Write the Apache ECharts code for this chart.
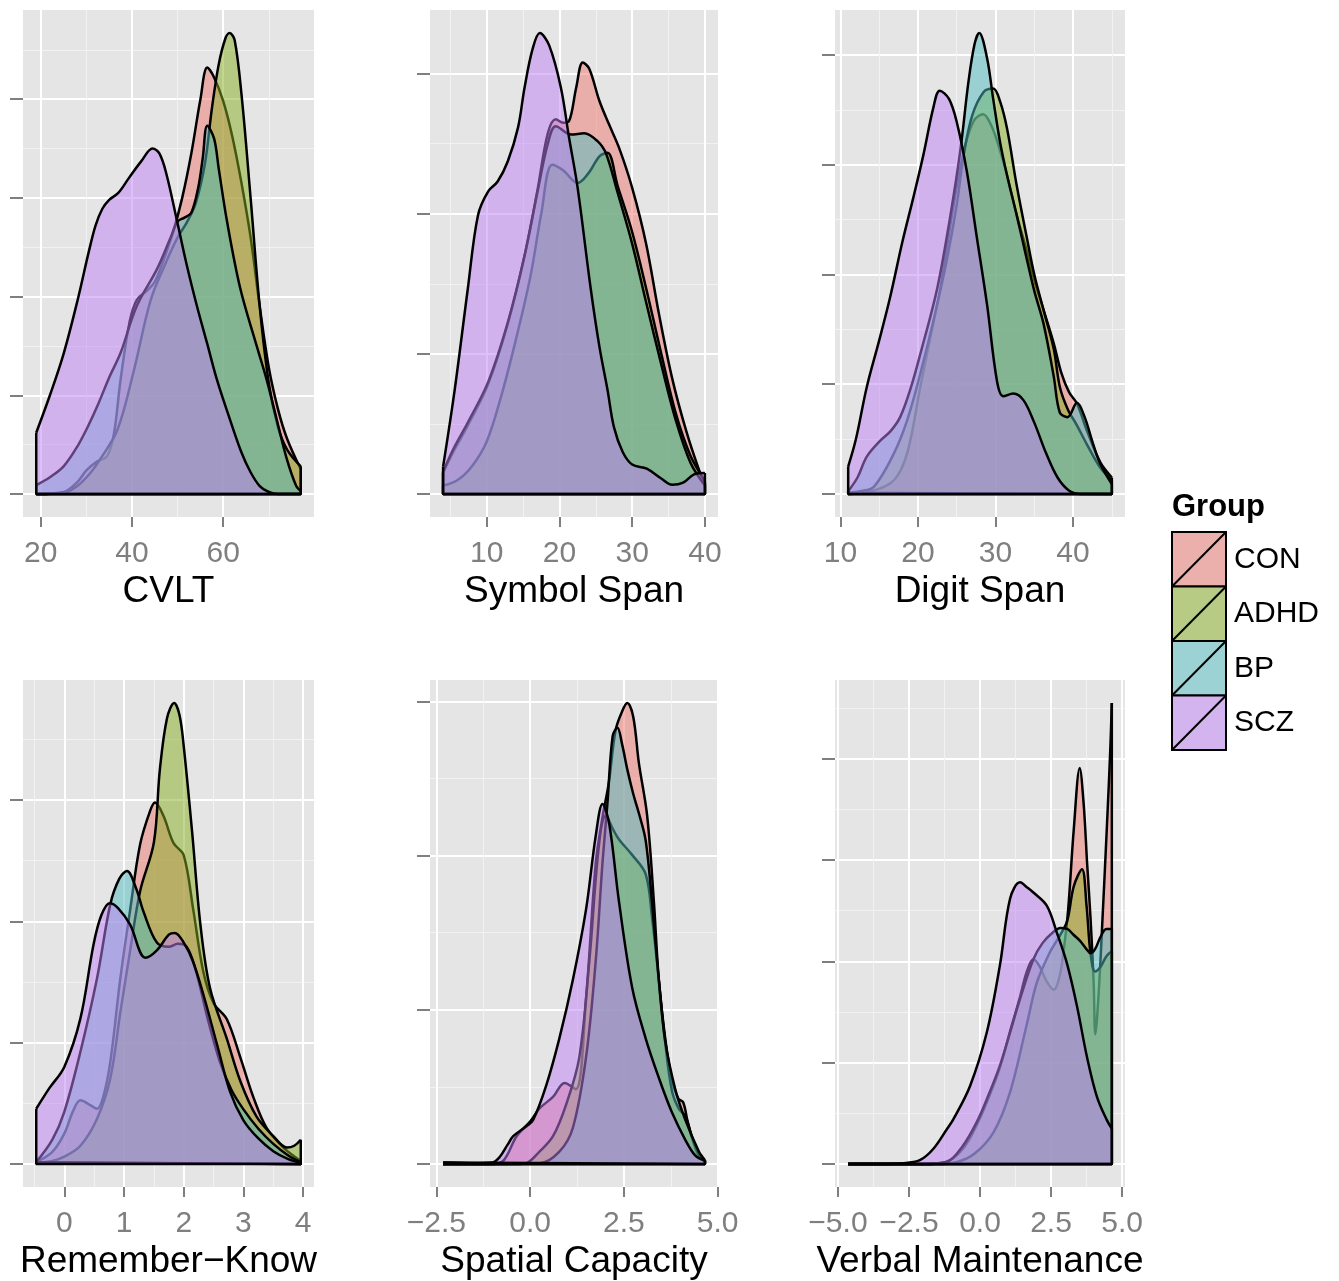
<!DOCTYPE html>
<html>
<head>
<meta charset="utf-8">
<script src="https://cdn.jsdelivr.net/npm/echarts@6/dist/echarts.min.js"></script>
<style>
html,body{margin:0;padding:0;background:#ffffff;}
#chart{width:1339px;height:1281px;}
</style>
</head>
<body>
<div id="chart"></div>
<script>
// ---------------- DATA ----------------
const groups = ['CON', 'ADHD', 'BP', 'SCZ'];
const groupColors = ['#EE7870', '#88AD20', '#50BCC0', '#C080F5'];
const panelTitles = ['CVLT', 'Symbol Span', 'Digit Span', 'Remember\u2212Know', 'Spatial Capacity', 'Verbal Maintenance'];

const xMajorTicks = [[20, 40, 60], [10, 20, 30, 40], [10, 20, 30, 40], [0, 1, 2, 3, 4], [-2.5, 0, 2.5, 5], [-5, -2.5, 0, 2.5, 5]];
const xMinorTicks = [[30, 50, 70], [5, 15, 25, 35], [15, 25, 35, 45], [-0.5, 0.5, 1.5, 2.5, 3.5], [-1.25, 1.25, 3.75], [-3.75, -1.25, 1.25, 3.75]];
const xTickDecimals = [0, 0, 0, 0, 1, 1];
const yMajorTicks = [[0, 0.01, 0.02, 0.03, 0.04], [0, 0.02, 0.04, 0.06], [0, 0.02, 0.04, 0.06, 0.08], [0, 0.2, 0.4, 0.6], [0, 0.2, 0.4, 0.6], [0, 0.1, 0.2, 0.3, 0.4]];
const yMinorTicks = [[0.005, 0.015, 0.025, 0.035, 0.045], [0.01, 0.03, 0.05], [0.01, 0.03, 0.05, 0.07], [0.1, 0.3, 0.5, 0.7], [0.1, 0.3, 0.5], [0.05, 0.15, 0.25, 0.35, 0.45]];

// CVLT densities
const cvltCON = [[19,0],[25,0.0002],[28,0.0012],[30,0.0024],[32.4,0.0033],[34.5,0.0038],[36,0.006],[37.5,0.0116],[39.5,0.0175],[41.1,0.0197],[43.3,0.0206],[45,0.0215],[47,0.0238],[49,0.0265],[51,0.030],[53,0.0345],[55,0.040],[56.5,0.0432],[58,0.0422],[60,0.0398],[62,0.0362],[64,0.0315],[66,0.026],[68,0.019],[70,0.0128],[72,0.0086],[74,0.0056],[77,0.0025]];
const cvltADHD = [[19,0],[25,0.0001],[28,0.0008],[31,0.0022],[33,0.0035],[36.8,0.0065],[40.4,0.0125],[44,0.0195],[47,0.023],[50,0.026],[52,0.0275],[54,0.0295],[56,0.0335],[57.5,0.039],[59,0.0435],[60.5,0.0462],[61.4,0.0467],[62.5,0.046],[64,0.0405],[66,0.030],[68,0.019],[70,0.0112],[72,0.0068],[74,0.0045],[77,0.0028]];
const cvltBP = [[19,0.0009],[22,0.0017],[25,0.0028],[28,0.0048],[30.5,0.007],[32.4,0.0089],[35,0.0118],[37.5,0.0143],[41,0.019],[45.5,0.0228],[48.4,0.0259],[50,0.0276],[51.5,0.028],[53,0.0285],[54.5,0.031],[55.5,0.034],[56.5,0.0373],[58,0.036],[59,0.033],[60.8,0.0277],[63.7,0.0209],[67.4,0.0149],[69.5,0.0116],[71.7,0.0076],[73.9,0.0036],[76,0.0008],[77,0.0003]];
const cvltSCZ = [[19,0.0062],[22,0.0100],[25,0.0142],[28,0.0195],[30.5,0.0245],[32,0.0272],[33.5,0.0289],[35,0.0298],[37,0.0305],[39.3,0.032],[42,0.0337],[44.5,0.035],[46,0.0345],[47.5,0.0325],[49.9,0.0276],[52,0.0232],[54.2,0.0191],[56.5,0.0152],[58.6,0.0116],[61.5,0.0075],[64,0.0042],[66,0.0022],[68,0.0008],[70,0.0002],[72,0],[77,0]];

// Symbol Span densities
const symCON = [[4,0.003],[5.5,0.0062],[7.4,0.0098],[10.2,0.0157],[12.9,0.0243],[15.2,0.034],[17,0.0435],[18.4,0.0515],[19.5,0.0535],[20.5,0.053],[21.3,0.0532],[22.3,0.058],[23.2,0.0616],[24.1,0.0607],[25.5,0.0561],[26.8,0.0528],[28.2,0.0494],[30,0.0437],[31.9,0.0358],[33.7,0.0256],[35.5,0.0165],[37.4,0.0091],[39.2,0.0034],[40,0.0015]];
const symADHD = [[4,0.0012],[6,0.002],[8,0.004],[10,0.0075],[12,0.014],[14,0.022],[16,0.031],[17.5,0.040],[19,0.047],[20.5,0.0462],[22.5,0.0444],[24,0.0458],[25.5,0.0482],[26.6,0.0487],[28,0.044],[30,0.0374],[32,0.029],[34,0.020],[36,0.0115],[38,0.0055],[40,0.0018]];
const symBP = [[4,0.0032],[5.5,0.0066],[7.4,0.0102],[10.2,0.016],[12.9,0.0245],[15.2,0.034],[17,0.0432],[18.4,0.050],[19.5,0.0525],[21.6,0.0513],[23.4,0.0515],[25.2,0.0504],[26.4,0.0486],[28,0.043],[30,0.0357],[32,0.027],[34,0.0185],[36,0.0105],[38,0.0045],[40,0.0012]];
const symSCZ = [[4,0.0039],[5.6,0.0149],[7.4,0.0293],[8.8,0.0398],[10.2,0.0432],[11.5,0.0446],[12.9,0.0475],[14.3,0.0523],[15.2,0.058],[16.3,0.0635],[17.3,0.0658],[18.6,0.064],[20.2,0.058],[21.3,0.051],[22.5,0.0437],[24.3,0.0293],[25.5,0.021],[26.6,0.0149],[27.5,0.0095],[28.7,0.006],[30,0.0042],[32,0.0036],[34,0.0022],[35.5,0.0013],[37,0.0016],[38.5,0.0028],[40,0.003]];

// Digit Span densities
const digCON = [[11,0],[14,0.0005],[16.9,0.0025],[18.6,0.0074],[20.3,0.0195],[21.6,0.0285],[22.9,0.0376],[24.6,0.0527],[26,0.063],[27.2,0.068],[28.4,0.0692],[29.5,0.067],[30.6,0.0625],[31.5,0.058],[32.7,0.051],[34,0.0445],[35,0.039],[36.2,0.0335],[37.5,0.0275],[38.5,0.022],[39.5,0.0185],[40.5,0.0165],[41.8,0.0115],[43.5,0.0058],[45,0.003]];
const digADHD = [[11,0.0002],[12.5,0.0005],[14.3,0.0013],[16.9,0.0074],[18.6,0.0134],[20.3,0.0219],[22,0.0316],[23.7,0.0425],[25,0.0527],[25.9,0.0618],[27,0.069],[28.5,0.0733],[29.7,0.0739],[30.6,0.0715],[31.5,0.0665],[32.7,0.0565],[34,0.047],[35,0.040],[36.2,0.0335],[37.5,0.0265],[38.3,0.0195],[39.3,0.0155],[40.5,0.0125],[41.8,0.009],[43.5,0.0048],[45,0.0025]];
const digBP = [[11,0.0005],[12.2,0.003],[13.4,0.0068],[15.2,0.0098],[16.5,0.0115],[17.7,0.014],[19,0.019],[20.3,0.0255],[22.5,0.0376],[24.2,0.0509],[25.5,0.063],[26.5,0.075],[27.3,0.082],[27.9,0.084],[28.9,0.0795],[29.7,0.072],[30.6,0.064],[31.5,0.058],[32.7,0.051],[34,0.043],[35,0.037],[36.2,0.031],[37.5,0.0215],[38.3,0.0148],[39.3,0.014],[40.5,0.0166],[41.5,0.014],[42.5,0.0095],[43.5,0.0055],[45,0.0018]];
const digSCZ = [[11,0.005],[12,0.010],[13.4,0.0195],[15,0.028],[16.4,0.0358],[18,0.046],[19.4,0.054],[20.7,0.0618],[22,0.0705],[22.8,0.0735],[24,0.072],[25,0.0678],[26.3,0.0588],[27.6,0.0467],[28.9,0.0346],[30.2,0.0205],[31,0.0178],[32.3,0.0183],[33.6,0.0171],[35,0.013],[36.5,0.0075],[38,0.003],[39.5,0.0006],[41,0],[45,0]];

// Remember-Know densities
const rkCON = [[-0.47,0.003],[-0.2,0.02],[0,0.05],[0.15,0.088],[0.27,0.105],[0.42,0.098],[0.55,0.091],[0.65,0.11],[0.77,0.168],[0.94,0.307],[1.1,0.417],[1.27,0.527],[1.44,0.583],[1.52,0.596],[1.66,0.574],[1.83,0.529],[2.0,0.509],[2.16,0.419],[2.33,0.316],[2.5,0.265],[2.72,0.239],[2.95,0.175],[3.17,0.109],[3.39,0.059],[3.67,0.027],[3.96,0.005]];
const rkADHD = [[-0.47,0.002],[-0.2,0.005],[0,0.012],[0.27,0.03],[0.55,0.075],[0.77,0.141],[0.94,0.251],[1.1,0.35],[1.27,0.45],[1.5,0.53],[1.6,0.65],[1.72,0.735],[1.84,0.760],[1.93,0.74],[2.0,0.689],[2.14,0.548],[2.28,0.394],[2.44,0.29],[2.72,0.207],[2.95,0.136],[3.22,0.078],[3.5,0.046],[3.73,0.027],[3.85,0.03],[3.96,0.04]];
const rkBP = [[-0.47,0.003],[-0.2,0.04],[0,0.086],[0.27,0.185],[0.55,0.307],[0.77,0.428],[0.92,0.47],[1.05,0.483],[1.2,0.455],[1.33,0.415],[1.55,0.365],[1.75,0.358],[1.9,0.363],[2.05,0.358],[2.2,0.32],[2.4,0.24],[2.6,0.17],[2.8,0.122],[3.0,0.09],[3.25,0.058],[3.5,0.033],[3.75,0.014],[3.96,0.003]];
const rkSCZ = [[-0.47,0.091],[-0.25,0.125],[0,0.160],[0.27,0.240],[0.49,0.362],[0.62,0.41],[0.76,0.43],[0.9,0.422],[1.1,0.395],[1.36,0.34],[1.55,0.352],[1.75,0.378],[1.85,0.381],[2.0,0.365],[2.15,0.335],[2.33,0.279],[2.56,0.196],[2.78,0.118],[3.0,0.072],[3.25,0.042],[3.5,0.021],[3.75,0.008],[3.96,0.002]];

// Spatial Capacity densities
const spCON = [[-2.32,0],[-1.0,0],[-0.7,0.005],[-0.36,0.036],[0,0.055],[0.25,0.072],[0.61,0.087],[0.92,0.105],[1.22,0.097],[1.49,0.214],[1.75,0.39],[1.93,0.45],[2.1,0.495],[2.28,0.563],[2.46,0.588],[2.59,0.598],[2.75,0.58],[2.9,0.52],[3.12,0.452],[3.3,0.34],[3.43,0.24],[3.61,0.16],[3.78,0.11],[3.95,0.085],[4.08,0.08],[4.2,0.055],[4.35,0.028],[4.5,0.01],[4.66,0.004]];
const spADHD = [[-2.32,0],[-0.3,0],[-0.1,0.001],[0.25,0.016],[0.61,0.036],[0.96,0.077],[1.31,0.138],[1.58,0.264],[1.84,0.416],[2.02,0.452],[2.2,0.435],[2.37,0.421],[2.72,0.401],[3.08,0.376],[3.25,0.32],[3.43,0.239],[3.6,0.158],[3.78,0.095],[3.96,0.072],[4.14,0.062],[4.31,0.036],[4.5,0.012],[4.66,0.004]];
const spBP = [[-2.32,0],[0.25,0.001],[0.78,0.016],[1.14,0.047],[1.49,0.138],[1.75,0.264],[1.93,0.391],[2.06,0.467],[2.2,0.555],[2.33,0.566],[2.45,0.545],[2.6,0.51],[2.75,0.48],[2.9,0.455],[3.08,0.42],[3.25,0.34],[3.43,0.239],[3.6,0.16],[3.87,0.097],[4.14,0.057],[4.5,0.016],[4.66,0.005]];
const spSCZ = [[-2.32,0.002],[-1.5,0.001],[-1.0,0.002],[-0.81,0.009],[-0.6,0.025],[-0.45,0.036],[-0.1,0.049],[0.08,0.057],[0.43,0.102],[0.78,0.163],[1.14,0.239],[1.49,0.33],[1.75,0.426],[1.93,0.467],[2.11,0.441],[2.37,0.34],[2.72,0.229],[3.08,0.163],[3.43,0.112],[3.78,0.067],[4.14,0.031],[4.4,0.011],[4.66,0.004]];

// Verbal Maintenance densities
const vmCON = [[-4.64,0],[-2,0],[-1.2,0.002],[-0.6,0.015],[-0.12,0.038],[0.3,0.065],[0.7,0.095],[1.1,0.135],[1.41,0.165],[1.65,0.19],[1.88,0.202],[2.1,0.195],[2.35,0.18],[2.6,0.172],[2.8,0.185],[2.95,0.212],[3.1,0.25],[3.3,0.33],[3.51,0.391],[3.65,0.355],[3.77,0.297],[3.89,0.243],[4.0,0.18],[4.06,0.128],[4.18,0.17],[4.3,0.235],[4.47,0.335],[4.59,0.412],[4.64,0.455]];
const vmADHD = [[-4.64,0],[-1.5,0],[-0.8,0.002],[-0.2,0.01],[0.47,0.031],[1.06,0.071],[1.64,0.137],[2.0,0.179],[2.46,0.209],[2.8,0.225],[3.07,0.24],[3.3,0.274],[3.59,0.291],[3.75,0.255],[3.89,0.208],[4.05,0.19],[4.25,0.195],[4.45,0.205],[4.64,0.21]];
const vmBP = [[-4.64,0],[-2,0],[-1.17,0.002],[-0.6,0.018],[-0.12,0.041],[0.3,0.068],[0.7,0.097],[1.06,0.13],[1.41,0.163],[1.88,0.202],[2.2,0.218],[2.58,0.229],[2.83,0.233],[3.07,0.232],[3.3,0.226],[3.53,0.22],[3.75,0.212],[3.89,0.208],[4.05,0.212],[4.24,0.224],[4.45,0.232],[4.64,0.232]];
const vmSCZ = [[-4.64,0],[-3.5,0],[-2.6,0.001],[-2.1,0.004],[-1.64,0.015],[-1.15,0.035],[-0.94,0.044],[-0.35,0.077],[0.24,0.13],[0.7,0.196],[1.06,0.262],[1.41,0.278],[1.66,0.273],[1.88,0.268],[2.35,0.255],[2.71,0.228],[3.07,0.197],[3.42,0.155],[3.77,0.105],[4.12,0.066],[4.47,0.043],[4.64,0.035]];

const panelCurves = [
  [cvltCON, cvltADHD, cvltBP, cvltSCZ],
  [symCON, symADHD, symBP, symSCZ],
  [digCON, digADHD, digBP, digSCZ],
  [rkCON, rkADHD, rkBP, rkSCZ],
  [spCON, spADHD, spBP, spSCZ],
  [vmCON, vmADHD, vmBP, vmSCZ]
];

// ---------------- LAYOUT ----------------
const gridBoxes = [
  {left: 23, top: 10, width: 291, height: 507},
  {left: 430, top: 10, width: 288, height: 507},
  {left: 835, top: 10, width: 290, height: 507},
  {left: 23, top: 680, width: 291, height: 507},
  {left: 430, top: 680, width: 288, height: 507},
  {left: 835, top: 680, width: 290, height: 507}
];
const FONT = '"Liberation Sans", Arial, Helvetica, sans-serif';
const TICK_GREY = '#7F7F7F';
const FILL_ALPHA = 0.5;
const OUTLINE_W = 2.5;

function rgba(hex, a) {
  const n = parseInt(hex.slice(1), 16);
  return 'rgba(' + ((n >> 16) & 255) + ',' + ((n >> 8) & 255) + ',' + (n & 255) + ',' + a + ')';
}
function fmt(dec) {
  return function (v) {
    const s = Math.abs(v).toFixed(dec);
    return (v < 0 ? '\u2212' : '') + s;
  };
}

const grid = [], xAxis = [], yAxis = [], series = [];

panelCurves.forEach(function (curves, p) {
  grid.push(Object.assign({show: true, backgroundColor: '#E5E5E5', borderWidth: 0, containLabel: false, outerBoundsMode: 'none'}, gridBoxes[p]));

  let lo = Infinity, hi = -Infinity, top = 0;
  curves.forEach(function (c) {
    lo = Math.min(lo, c[0][0]);
    hi = Math.max(hi, c[c.length - 1][0]);
    c.forEach(function (pt) { top = Math.max(top, pt[1]); });
  });
  const xr = hi - lo;
  const xMin = lo - 0.05 * xr, xMax = hi + 0.05 * xr;
  const yMin = -0.05 * top, yMax = 1.05 * top;

  xAxis.push({
    type: 'value', gridIndex: p, min: xMin, max: xMax, position: 'bottom',
    axisLine: {show: false, onZero: false},
    axisTick: {show: true, inside: false, customValues: xMajorTicks[p], length: 10, lineStyle: {color: TICK_GREY, width: 2}},
    axisLabel: {show: true, customValues: xMajorTicks[p], interval: 0, color: TICK_GREY, fontSize: 30, fontFamily: FONT, margin: 22, formatter: fmt(xTickDecimals[p])},
    splitLine: {show: true, lineStyle: {color: '#FFFFFF', width: 2}},
    name: panelTitles[p], nameLocation: 'middle', nameGap: 56,
    nameTextStyle: {fontSize: 37, color: '#000000', fontFamily: FONT}
  });
  xAxis.push({
    type: 'value', gridIndex: p, min: xMin, max: xMax, position: 'top',
    axisLine: {show: false, onZero: false},
    axisTick: {show: false, customValues: xMinorTicks[p]},
    axisLabel: {show: false, customValues: xMinorTicks[p]},
    splitLine: {show: true, lineStyle: {color: '#F2F2F2', width: 1}}
  });
  yAxis.push({
    type: 'value', gridIndex: p, min: yMin, max: yMax, position: 'left',
    axisLine: {show: false, onZero: false},
    axisTick: {show: true, inside: false, customValues: yMajorTicks[p], length: 13, lineStyle: {color: TICK_GREY, width: 2}},
    axisLabel: {show: false, customValues: yMajorTicks[p]},
    splitLine: {show: true, lineStyle: {color: '#FFFFFF', width: 2}}
  });
  yAxis.push({
    type: 'value', gridIndex: p, min: yMin, max: yMax, position: 'right',
    axisLine: {show: false, onZero: false},
    axisTick: {show: false, customValues: yMinorTicks[p]},
    axisLabel: {show: false, customValues: yMinorTicks[p]},
    splitLine: {show: true, lineStyle: {color: '#F2F2F2', width: 1}}
  });

  curves.forEach(function (c, g) {
    series.push({
      type: 'line', name: groups[g], xAxisIndex: 2 * p, yAxisIndex: 2 * p,
      data: c, smooth: 0.35, symbol: 'none', showSymbol: false, silent: true,
      lineStyle: {color: '#000000', width: OUTLINE_W},
      areaStyle: {color: rgba(groupColors[g], FILL_ALPHA), opacity: 1},
      z: 3 + g
    });
    const first = c[0], last = c[c.length - 1];
    series.push({
      type: 'line', name: groups[g] + ' edge', xAxisIndex: 2 * p, yAxisIndex: 2 * p,
      data: [[first[0], first[1]], [first[0], 0], [last[0], 0], [last[0], last[1]]],
      smooth: false, symbol: 'none', showSymbol: false, silent: true,
      lineStyle: {color: '#000000', width: OUTLINE_W},
      z: 3 + g
    });
  });
});

// Legend drawn as graphic elements
const legendChildren = [{
  type: 'text', left: 1172, top: 492,
  style: {text: 'Group', font: 'bold 31px ' + FONT, fill: '#000000'}
}];
const keyTop = 532, keySize = 54.5;
groups.forEach(function (g, i) {
  const y = keyTop + i * keySize;
  legendChildren.push({type: 'rect', shape: {x: 1172, y: y, width: 54, height: keySize}, style: {fill: '#E8E8E8'}});
  legendChildren.push({type: 'rect', shape: {x: 1172, y: y, width: 54, height: keySize}, style: {fill: rgba(groupColors[i], FILL_ALPHA), stroke: '#000000', lineWidth: 2}});
  legendChildren.push({type: 'line', shape: {x1: 1172, y1: y + keySize, x2: 1226, y2: y}, style: {stroke: '#000000', lineWidth: 2}});
  legendChildren.push({type: 'text', x: 1234, y: y + keySize / 2, style: {text: g, font: '30px ' + FONT, fill: '#000000', verticalAlign: 'middle', align: 'left'}});
});

const chart = echarts.init(document.getElementById('chart'), null, {renderer: 'canvas'});
chart.setOption({
  animation: false,
  backgroundColor: '#FFFFFF',
  grid: grid,
  xAxis: xAxis,
  yAxis: yAxis,
  series: series,
  graphic: legendChildren
});
</script>
</body>
</html>
